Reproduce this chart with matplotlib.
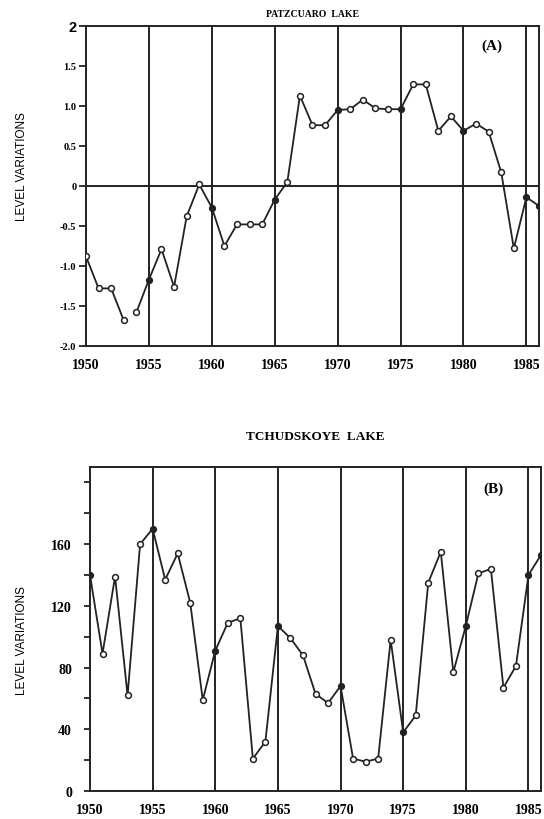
import numpy as np
import matplotlib
matplotlib.use("Agg")
import matplotlib.pyplot as plt

# Lake level variations, 1950-1986
years = np.arange(1950, 1987)

# Patzcuaro lake (m)
patz = [-0.88, -1.28, -1.28, -1.68, -1.58, -1.17, -0.79, -1.26, -0.38, 0.02,
        -0.27, -0.75, -0.48, -0.48, -0.48, -0.17, 0.05, 1.13, 0.76, 0.76,
        0.95, 0.96, 1.08, 0.97, 0.96, 0.96, 1.27, 1.27, 0.69, 0.87,
        0.69, 0.78, 0.68, 0.17, -0.78, -0.14, -0.25]
patz_break = 1953   # no record joining 1953 and 1954
patz_filled = [1955, 1960, 1965, 1970, 1975, 1980, 1985, 1986]

# Tchudskoye lake (cm)
tchud = [140, 89, 139, 62, 160, 170, 137, 154, 122, 59,
         91, 109, 112, 21, 32, 107, 99, 88, 63, 57,
         68, 21, 19, 21, 98, 38, 49, 135, 155, 77,
         107, 141, 144, 67, 81, 140, 153]
tchud_filled = [1950, 1955, 1960, 1965, 1970, 1975, 1980, 1985, 1986]

year_ticks = [1950, 1955, 1960, 1965, 1970, 1975, 1980, 1985]
patz_yticks = [-2.0, -1.5, -1.0, -0.5, 0, 0.5, 1.0, 1.5, 2]
patz_ylabels = ["-2.0", "-1.5", "-1.0", "-0.5", "0", "0.5", "1.0", "1.5", "2"]
tchud_yticks = [0, 40, 80, 120, 160]
tchud_minor = [20, 60, 100, 140, 180, 200]

INK = "#222222"
SERIF = ["Liberation Serif", "DejaVu Serif"]
SANS = ["Liberation Sans", "DejaVu Sans"]

W, H = 544, 820
fig = plt.figure(figsize=(W / 100, H / 100), dpi=100)


def px_axes(left, top, right, bottom):
    return fig.add_axes([left / W, 1 - bottom / H, (right - left) / W, (bottom - top) / H])


def frame(ax):
    for s in ax.spines.values():
        s.set_color(INK)
        s.set_linewidth(1.4)
    for yr in year_ticks[1:]:
        ax.axvline(yr, color=INK, lw=1.4, zorder=1)
    ax.set_xticks(year_ticks)
    ax.set_xticklabels([str(y) for y in year_ticks], fontfamily=SERIF,
                       fontweight="bold", fontsize=10)
    ax.tick_params(axis="x", length=0, pad=9, colors="black")


def series(ax, x, y, filled):
    x = np.asarray(x)
    y = np.asarray(y, dtype=float)
    ax.plot(x, y, color=INK, lw=1.3, zorder=3)
    mask = np.isin(x, filled)
    ax.plot(x[~mask], y[~mask], "o", ms=4.2, mfc="white", mec=INK, mew=1.1, zorder=4)
    ax.plot(x[mask], y[mask], "o", ms=4.2, mfc=INK, mec=INK, zorder=4)


# ---- (A) Patzcuaro ----
ax1 = px_axes(86, 27, 539, 347)
frame(ax1)
ax1.axhline(0, color=INK, lw=1.4, zorder=1)
yrs = np.array(years)
p = np.array(patz)
first = yrs <= patz_break
ax1.plot(yrs[first], p[first], color=INK, lw=1.3, zorder=3)
ax1.plot(yrs[~first], p[~first], color=INK, lw=1.3, zorder=3)
mask = np.isin(yrs, patz_filled)
ax1.plot(yrs[~mask], p[~mask], "o", ms=4.2, mfc="white", mec=INK, mew=1.1, zorder=4)
ax1.plot(yrs[mask], p[mask], "o", ms=4.2, mfc=INK, mec=INK, zorder=4)
ax1.set_xlim(1950, 1986)
ax1.set_ylim(-2.0, 2.0)
ax1.set_yticks(patz_yticks)
ax1.set_yticklabels(patz_ylabels, fontfamily=SERIF, fontweight="bold", fontsize=7.5)
ax1.get_yticklabels()[-1].set_fontfamily(SANS)
ax1.get_yticklabels()[-1].set_fontsize(10.5)
ax1.tick_params(axis="y", length=5, width=1.3, pad=2, colors=INK)
for lab in ax1.get_yticklabels():
    lab.set_color("black")
ax1.text(0.5, 1.04, "PATZCUARO  LAKE", transform=ax1.transAxes, ha="center",
         va="center", fontfamily=SERIF, fontweight="bold", fontsize=7)
ax1.text(0.895, 0.94, "(A)", transform=ax1.transAxes, ha="center", va="center",
         fontfamily=SERIF, fontweight="bold", fontsize=11)
fig.text(22 / W, 1 - 167 / H, "LEVEL VARIATIONS", rotation=90, ha="center",
         va="center", fontfamily=SANS, fontsize=8.5)

# ---- (B) Tchudskoye ----
ax2 = px_axes(90, 468, 541, 792)
frame(ax2)
series(ax2, years, tchud, tchud_filled)
ax2.set_xlim(1950, 1986)
ax2.set_ylim(0, 210)
ax2.set_yticks(tchud_yticks)
ax2.set_yticks(tchud_minor, minor=True)
ax2.set_yticklabels([str(v) for v in tchud_yticks], fontfamily=SERIF,
                    fontweight="bold", fontsize=10)
ax2.tick_params(axis="y", which="both", length=4, width=1.3, pad=9, colors=INK)
for lab in ax2.get_yticklabels():
    lab.set_color("black")
ax2.text(0.5, 1.095, "TCHUDSKOYE  LAKE", transform=ax2.transAxes, ha="center",
         va="center", fontfamily=SERIF, fontweight="bold", fontsize=9.5)
ax2.text(0.895, 0.935, "(B)", transform=ax2.transAxes, ha="center", va="center",
         fontfamily=SERIF, fontweight="bold", fontsize=11)
fig.text(22 / W, 1 - 641 / H, "LEVEL VARIATIONS", rotation=90, ha="center",
         va="center", fontfamily=SANS, fontsize=8.5)

fig.savefig("out.png", dpi=100, facecolor="white")
